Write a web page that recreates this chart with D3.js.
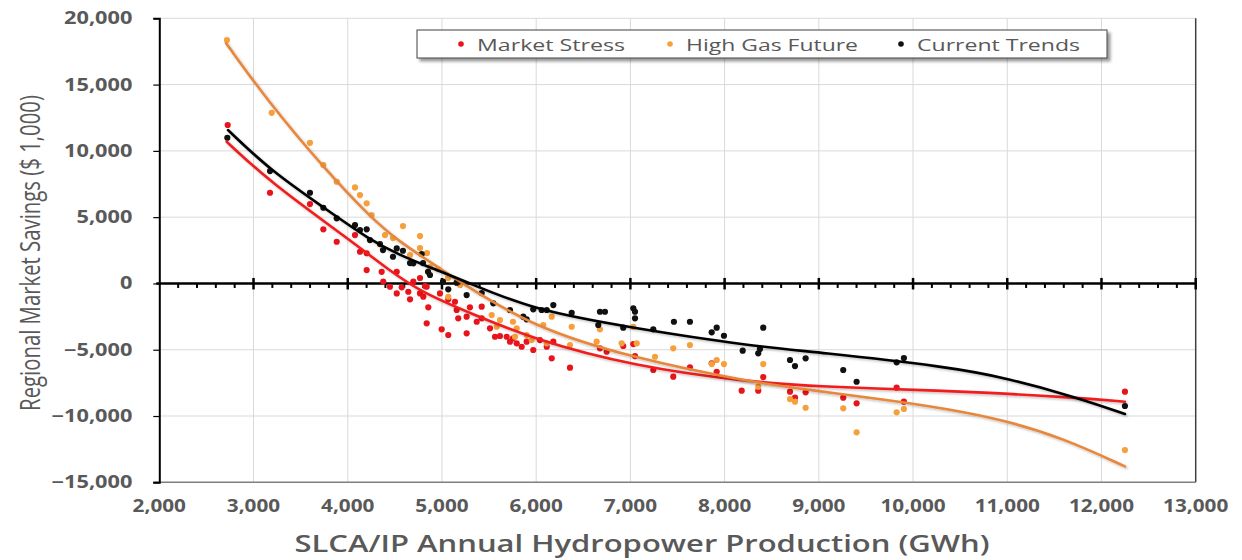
<!DOCTYPE html>
<html lang="en">
<head>
  <meta charset="UTF-8" />
  <title>Regional Market Savings vs Hydropower Production</title>
  <script src="https://d3js.org/d3.v7.min.js"></script>
  <style>
    body { margin: 0; background: #fff; }
    text { font-family: "Open Sans", "DejaVu Sans", sans-serif; fill: #595959; }
  </style>
</head>
<body>
  <svg id="chart" width="1242" height="560"></svg>

  <script>
    // ---- data ----
    const seriesNames = ["Market Stress", "High Gas Future", "Current Trends"];
    const seriesColors = ["#e8141c", "#f6a03c", "#111111"];
    const trendColors = ["#f21c1c", "#e8873a", "#000000"];

    const xTicks = [2000, 3000, 4000, 5000, 6000, 7000, 8000, 9000, 10000, 11000, 12000, 13000];
    const yTicks = [-15000, -10000, -5000, 0, 5000, 10000, 15000, 20000];

    const stressPoints = [
      [2726, 11950], [3175, 6840], [3599, 5988], [3741, 4080], [3883, 3145], [4077, 3650],
      [4130, 2390], [4201, 2270], [4201, 1010], [4360, 880], [4377, 130], [4520, 880],
      [4448, -250], [4520, -750], [4767, 410], [4838, -250], [4767, -750], [4979, -750],
      [4573, -295], [4643, -625], [4696, 130], [4820, -196], [4661, -1200], [4802, -1000],
      [4855, -1800], [4838, -3010], [5067, -1200], [5138, -1380], [5156, -2005], [5173, -2630],
      [5262, -2510], [5297, -1800], [5422, -1755], [5422, -2630], [5369, -2890], [5510, -3385],
      [5563, -4020], [5616, -3965], [5687, -4020], [5722, -4395], [5754, -4140], [5793, -4515],
      [5846, -4775], [5899, -4395], [5969, -5020], [6040, -4270], [6112, -4775], [6182, -4395],
      [4997, -3460], [5067, -3890], [5262, -3765], [6165, -5650], [6359, -6355], [6677, -4895],
      [6748, -5150], [6924, -4720], [7031, -4570], [7049, -5475], [7243, -6530], [7455, -7035],
      [7632, -6325], [7916, -6660], [8181, -8090], [7863, -6025], [8357, -8090], [8410, -7060],
      [8694, -8165], [8747, -8620], [8860, -8210], [9259, -8620], [9401, -9040], [9826, -7865],
      [9903, -8920], [12249, -8165]
    ];

    const gasPoints = [
      [2718, 18355], [3193, 12873], [3599, 10610], [3741, 8930], [3883, 7670], [4077, 7245],
      [4130, 6665], [4201, 6040], [4254, 5160], [4395, 3650], [4480, 3425], [4586, 4330],
      [4661, 2140], [4767, 3575], [4767, 2670], [4841, 2290], [4873, 1235], [4958, 1085],
      [5064, 405], [5160, 30], [5067, -1005], [5191, -120], [5528, -2385], [5616, -2760],
      [5754, -2890], [5581, -3265], [5793, -3385], [5775, -4020], [5899, -3890], [5952, -4270],
      [6075, -3135], [6165, -2510], [6112, -4515], [6377, -3265], [6359, -4645], [6677, -3460],
      [6642, -4395], [6907, -4515], [7031, -3265], [7067, -4515], [7261, -5530], [7455, -4895],
      [7632, -4645], [7863, -6080], [7916, -5775], [7993, -6080], [8410, -6080], [8357, -7790],
      [8694, -8720], [8747, -8920], [8860, -9375], [9259, -9420], [9401, -11230], [9826, -9720],
      [9903, -9470], [12249, -12565]
    ];

    const trendsPoints = [
      [2722, 10990], [3175, 8475], [3599, 6840], [3741, 5710], [3883, 4910], [4077, 4405],
      [4130, 4025], [4201, 4080], [4236, 3275], [4342, 2970], [4374, 2520], [4520, 2645],
      [4586, 2465], [4480, 2015], [4661, 1540], [4785, 2215], [4799, 1540], [4852, 880],
      [4873, 635], [5011, 130], [5156, 55], [5262, -875], [5422, -725], [4696, 1515],
      [5067, -445], [5173, 130], [5545, -1500], [5722, -2005], [5863, -2510], [5899, -2705],
      [5969, -1955], [6058, -2005], [6112, -2005], [6182, -1630], [6377, -2210], [6677, -2135],
      [6730, -2135], [6659, -3135], [7031, -1880], [7049, -2135], [7049, -2630], [6924, -3340],
      [7243, -3460], [7462, -2890], [7632, -2890], [7863, -3690], [7916, -3340], [7993, -3945],
      [8192, -5075], [8357, -5270], [8375, -4945], [8410, -3340], [8694, -5775], [8747, -6230],
      [8860, -5650], [9259, -6530], [9401, -7415], [9826, -5950], [9903, -5625], [12249, -9245]
    ];

    // trendline positions
    const stressTrend = [
      [2715, 10686], [3175, 7647], [4024, 3273], [4448, 935], [4799, -724], [5297, -2232],
      [5966, -4193], [7027, -6229], [8269, -7435], [8980, -7775], [10391, -8114],
      [10922, -8288], [11736, -8620], [12249, -8921]
    ];
    const gasTrend = [
      [2708, 18128], [3143, 13830], [3737, 8780], [4236, 5010], [4554, 3122], [4799, 1990],
      [5191, 106], [5966, -3288], [7027, -5626], [8269, -7435], [8980, -8110],
      [9700, -8758], [10391, -9484], [10993, -10357], [11600, -11692], [12249, -13800]
    ];
    const trendsTrend = [
      [2729, 11570], [3175, 8553], [3737, 5762], [4236, 3273], [4554, 2140], [4799, 1420],
      [5266, 106], [5966, -2006], [7027, -3363], [8269, -4720], [8980, -5173],
      [10391, -6304], [10996, -7133], [11736, -8590], [12249, -9848]
    ];

    const allPoints = [stressPoints, gasPoints, trendsPoints];
    const allTrends = [stressTrend, gasTrend, trendsTrend];

    // ---- layout ----
    const svg = d3.select("#chart");
    const plotLeft = 159.3, plotRight = 1195.7, plotTop = 18.3, plotBottom = 482.3;

    const x = d3.scaleLinear().domain([2000, 13000]).range([plotLeft, plotRight]);
    const y = d3.scaleLinear().domain([-15000, 20000]).range([plotBottom, plotTop]);
    const fmt = d3.format(",");

    const defs = svg.append("defs");
    defs.append("filter").attr("id", "boxShadow")
      .attr("x", "-5%").attr("y", "-30%").attr("width", "110%").attr("height", "180%")
      .append("feDropShadow")
      .attr("dx", 3).attr("dy", 3).attr("stdDeviation", 1.5)
      .attr("flood-color", "#000").attr("flood-opacity", 0.4);
    defs.append("filter").attr("id", "lineShadow")
      .attr("x", "-5%").attr("y", "-5%").attr("width", "110%").attr("height", "110%")
      .append("feDropShadow")
      .attr("dx", 1.5).attr("dy", 1.5).attr("stdDeviation", 1)
      .attr("flood-color", "#000").attr("flood-opacity", 0.25);

    // gridlines
    svg.append("g")
      .selectAll("line")
      .data(xTicks.slice(1, -1))
      .enter()
      .append("line")
      .attr("x1", (d) => x(d)).attr("x2", (d) => x(d))
      .attr("y1", plotTop).attr("y2", plotBottom)
      .style("stroke", "#d9d9d9").style("stroke-width", 1);

    svg.append("g")
      .selectAll("line")
      .data(yTicks.filter((d) => d !== 0 && d !== -15000))
      .enter()
      .append("line")
      .attr("x1", plotLeft).attr("x2", plotRight)
      .attr("y1", (d) => y(d)).attr("y2", (d) => y(d))
      .style("stroke", "#d9d9d9").style("stroke-width", 1);

    // right border and bottom line
    svg.append("line")
      .attr("x1", plotRight).attr("x2", plotRight).attr("y1", plotTop).attr("y2", plotBottom)
      .style("stroke", "#404040").style("stroke-width", 1.5);
    svg.append("line")
      .attr("x1", plotLeft - 6).attr("x2", plotRight).attr("y1", plotBottom).attr("y2", plotBottom)
      .style("stroke", "#7f7f7f").style("stroke-width", 1.5);

    // y axis (left)
    const yAxis = svg.append("g")
      .attr("transform", `translate(${plotLeft},0)`)
      .call(d3.axisLeft(y).tickValues(yTicks).tickFormat(fmt).tickSize(6).tickPadding(0));
    yAxis.select(".domain").style("stroke", "#000").style("stroke-width", 2);
    yAxis.selectAll(".tick line").style("stroke", "#000").style("stroke-width", 1.2);
    yAxis.selectAll(".tick text")
      .attr("x", -21)
      .attr("transform", "scale(1.28,1)")
      .style("font-size", "17px")
      .style("font-weight", "bold")
      .style("fill", "#595959");

    // x axis labels (along the bottom)
    const xAxis = svg.append("g")
      .attr("transform", `translate(0,${plotBottom})`)
      .call(d3.axisBottom(x).tickValues(xTicks).tickFormat(fmt).tickSize(0).tickPadding(0));
    xAxis.select(".domain").remove();
    xAxis.selectAll(".tick").attr("transform", null);
    xAxis.selectAll(".tick text")
      .attr("y", 18)
      .attr("x", (d) => x(d) / 1.22)
      .attr("transform", "scale(1.22,1)")
      .style("font-size", "17px")
      .style("font-weight", "bold")
      .style("fill", "#595959");

    // zero line with major and minor ticks
    const zeroG = svg.append("g");
    const minorTicks = d3.range(2200, 13000, 200).filter((d) => d % 1000 !== 0);
    zeroG.selectAll(".minor")
      .data(minorTicks)
      .enter()
      .append("line")
      .attr("x1", (d) => x(d)).attr("x2", (d) => x(d))
      .attr("y1", y(0)).attr("y2", y(0) + 4.5)
      .style("stroke", "#000").style("stroke-width", 2);
    zeroG.selectAll(".major")
      .data(xTicks.slice(1))
      .enter()
      .append("line")
      .attr("x1", (d) => x(d)).attr("x2", (d) => x(d))
      .attr("y1", y(0) - 5.5).attr("y2", y(0) + 6)
      .style("stroke", "#000").style("stroke-width", 2.5);
    zeroG.append("line")
      .attr("x1", plotLeft - 3).attr("x2", plotRight)
      .attr("y1", y(0)).attr("y2", y(0))
      .style("stroke", "#000").style("stroke-width", 2.5);

    // scatter points
    allPoints.forEach((pts, i) => {
      svg.append("g")
        .selectAll("circle")
        .data(pts)
        .enter()
        .append("circle")
        .attr("cx", (d) => x(d[0]))
        .attr("cy", (d) => y(d[1]))
        .attr("r", 3.1)
        .style("fill", seriesColors[i]);
    });

    // trend lines
    const line = d3.line()
      .x((d) => x(d[0]))
      .y((d) => y(d[1]))
      .curve(d3.curveBasis);

    allTrends.forEach((pts, i) => {
      svg.append("path")
        .datum(pts)
        .attr("d", line)
        .attr("filter", "url(#lineShadow)")
        .style("fill", "none")
        .style("stroke", trendColors[i])
        .style("stroke-width", 2.6)
        .style("stroke-linecap", "round");
    });

    // legend
    const legend = svg.append("g");
    legend.append("rect")
      .attr("x", 417).attr("y", 30)
      .attr("width", 690).attr("height", 28)
      .attr("filter", "url(#boxShadow)")
      .style("fill", "#fff")
      .style("stroke", "#404040")
      .style("stroke-width", 1);

    const legendDotX = [461, 670, 901];
    const legendTextW = [148, 172, 163];
    seriesNames.forEach((name, i) => {
      legend.append("circle")
        .attr("cx", legendDotX[i]).attr("cy", 44)
        .attr("r", 2.8)
        .style("fill", seriesColors[i]);
      legend.append("text")
        .attr("x", legendDotX[i] + 16).attr("y", 50.5)
        .attr("textLength", legendTextW[i])
        .attr("lengthAdjust", "spacingAndGlyphs")
        .style("font-size", "17px")
        .text(name);
    });

    // axis titles
    // y title: condensed by scaling along its own length to ~316px
    const yTitle = svg.append("text")
      .attr("text-anchor", "middle")
      .style("font-size", "28px")
      .text("Regional Market Savings ($ 1,000)");
    const yTitleLen = yTitle.node().getComputedTextLength() || 450;
    yTitle.attr("transform", `translate(40,253) rotate(-90) scale(${316 / yTitleLen},1)`);

    svg.append("text")
      .attr("x", 642).attr("y", 552)
      .attr("text-anchor", "middle")
      .attr("textLength", 695)
      .attr("lengthAdjust", "spacingAndGlyphs")
      .style("font-size", "24px")
      .style("font-weight", 600)
      .text("SLCA/IP Annual Hydropower Production (GWh)");
  </script>
</body>
</html>
